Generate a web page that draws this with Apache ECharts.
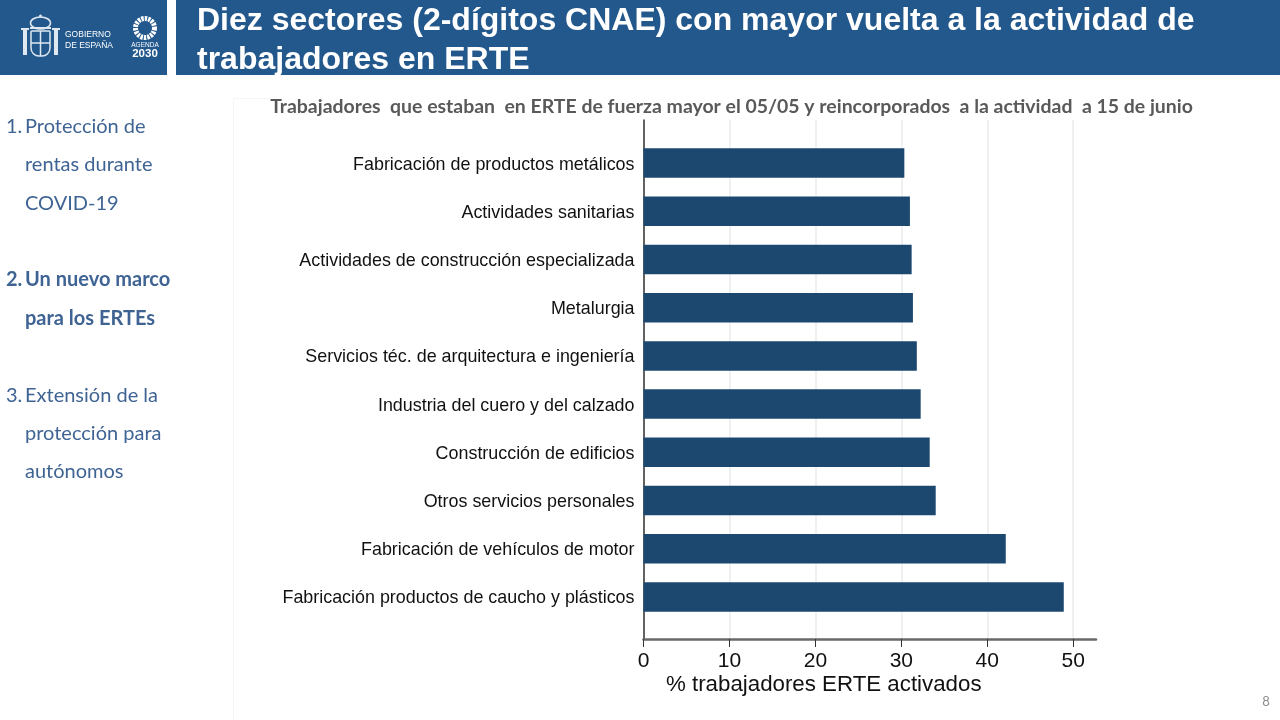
<!DOCTYPE html>
<html>
<head>
<meta charset="utf-8">
<style>
  html, body { margin: 0; padding: 0; background: #fff; }
  #chart { width: 1280px; height: 720px; }
</style>
<script src="https://cdn.jsdelivr.net/npm/echarts@6/dist/echarts.min.js"></script>
</head>
<body>
<div id="chart"></div>
<script>
// bottom to top, as on the axis
const sectores = [
  'Fabricación productos de caucho y plásticos',
  'Fabricación de vehículos de motor',
  'Otros servicios personales',
  'Construcción de edificios',
  'Industria del cuero y del calzado',
  'Servicios téc. de arquitectura e ingeniería',
  'Metalurgia',
  'Actividades de construcción especializada',
  'Actividades sanitarias',
  'Fabricación de productos metálicos',
];
const activados = [48.9, 42.15, 34, 33.3, 32.25, 31.8, 31.35, 31.2, 31, 30.35];
const xTicks = [0, 10, 20, 30, 40, 50];

const tituloLineas = [
  'Diez sectores (2-dígitos CNAE) con mayor vuelta a la actividad de',
  'trabajadores en ERTE',
];
const subtitulo = 'Trabajadores  que estaban  en ERTE de fuerza mayor el 05/05 y reincorporados  a la actividad  a 15 de junio';
const xNombre = '% trabajadores ERTE activados';

// sidebar: [number, lines, centre y of each line, bold]
const indice = [
  ['1.', ['Protección de', 'rentas durante', 'COVID-19'], [127, 165, 204], false],
  ['2.', ['Un nuevo marco', 'para los ERTEs'], [280, 319], true],
  ['3.', ['Extensión de la', 'protección para', 'autónomos'], [396, 434, 472], false],
];

const AZUL = '#22588c';
const BARRA = '#1c4870';
const CLARO = '#dfe8f1';
const XMAX = 52.65;

function texto(x, y, text, style) {
  return {
    type: 'text', x: x, y: y, silent: true,
    style: Object.assign({ text: text, fill: '#fff', textVerticalAlign: 'middle' }, style),
  };
}

const graphics = [
  { type: 'rect', shape: { x: 0, y: 0, width: 167, height: 75 }, style: { fill: AZUL } },
  { type: 'rect', shape: { x: 176, y: 0, width: 1104, height: 75 }, style: { fill: AZUL } },
  { type: 'line', shape: { x1: 233.5, y1: 98, x2: 233.5, y2: 720 }, style: { stroke: '#f6f6f6', lineWidth: 1 } },
  { type: 'line', shape: { x1: 233, y1: 98.5, x2: 270, y2: 98.5 }, style: { stroke: '#f6f6f6', lineWidth: 1 } },

  // escudo, simplified
  { type: 'rect', shape: { x: 31, y: 31, width: 19, height: 25, r: [1, 1, 8, 8] }, style: { fill: 'none', stroke: CLARO, lineWidth: 1.5 } },
  { type: 'line', shape: { x1: 40.5, y1: 31, x2: 40.5, y2: 56 }, style: { stroke: CLARO, lineWidth: 1.5 } },
  { type: 'line', shape: { x1: 31, y1: 43, x2: 50, y2: 43 }, style: { stroke: CLARO, lineWidth: 1.5 } },
  { type: 'ellipse', shape: { cx: 40.5, cy: 23, rx: 10, ry: 6 }, style: { fill: 'none', stroke: CLARO, lineWidth: 1.5 } },
  { type: 'line', shape: { x1: 30, y1: 28, x2: 51, y2: 28 }, style: { stroke: CLARO, lineWidth: 2 } },
  { type: 'circle', shape: { cx: 40.5, cy: 16, r: 1.5 }, style: { fill: CLARO } },
  { type: 'rect', shape: { x: 23, y: 30, width: 4, height: 25 }, style: { fill: CLARO } },
  { type: 'rect', shape: { x: 54, y: 30, width: 4, height: 25 }, style: { fill: CLARO } },
  { type: 'rect', shape: { x: 21, y: 28, width: 8, height: 2 }, style: { fill: CLARO } },
  { type: 'rect', shape: { x: 52, y: 28, width: 8, height: 2 }, style: { fill: CLARO } },
  texto(65, 35, 'GOBIERNO', { font: '8.5px "Liberation Sans"' }),
  texto(65, 46, 'DE ESPAÑA', { font: '8.5px "Liberation Sans"' }),

  // agenda 2030
  { type: 'circle', shape: { cx: 145, cy: 28, r: 9.5 }, style: { fill: 'none', stroke: '#fff', lineWidth: 5, lineDash: [2.4, 1] } },
  texto(145, 45, 'AGENDA', { font: '6.5px "Liberation Sans"', textAlign: 'center' }),
  texto(145, 54, '2030', { font: 'bold 11.5px "Liberation Sans"', textAlign: 'center' }),

  texto(197, 21, tituloLineas[0], { font: 'bold 32px "Liberation Sans"' }),
  texto(197, 60, tituloLineas[1], { font: 'bold 32px "Liberation Sans"' }),

  texto(731.5, 107, subtitulo, { font: 'bold 19.45px Lato', fill: '#595959', textAlign: 'center' }),
  texto(1266, 702, '8', { font: '13px Lato', fill: '#8c8c8c', textAlign: 'center' }),
];

indice.forEach(function (item) {
  const font = (item[3] ? 'bold ' : '') + '20px Lato';
  graphics.push(texto(6, item[2][0], item[0], { font: font, fill: '#3f6494' }));
  item[1].forEach(function (linea, i) {
    graphics.push(texto(25, item[2][i], linea, { font: font, fill: '#3f6494' }));
  });
});

const chart = echarts.init(document.getElementById('chart'));
chart.setOption({
  animation: false,
  backgroundColor: '#fff',
  // first grid carries the frame, second one the bars with their tighter band
  grid: [
    { left: 643.5, width: 452.5, top: 120, height: 519 },
    { left: 643.5, width: 452.5, top: 139, height: 482 },
  ],
  xAxis: [
    {
      gridIndex: 0, type: 'value', min: 0, max: XMAX, interval: 10,
      axisLine: { show: true, lineStyle: { color: '#6a6a6a', width: 2.5 } },
      axisTick: { show: true, length: 8, lineStyle: { color: '#333', width: 1 }, customValues: xTicks },
      axisLabel: { color: '#111', fontSize: 21, fontFamily: '"Liberation Sans"', margin: 12, customValues: xTicks },
      splitLine: { show: true, lineStyle: { color: '#eef0f2', width: 2 } },
      name: xNombre, nameLocation: 'middle', nameGap: 35, nameMoveOverlap: false,
      nameTextStyle: { color: '#111', fontSize: 22.3, fontFamily: '"Liberation Sans"', padding: [0, 92, 0, 0] },
    },
    { gridIndex: 1, type: 'value', min: 0, max: XMAX, show: false },
  ],
  yAxis: [
    {
      gridIndex: 0, type: 'category', data: [],
      axisLine: { show: true, lineStyle: { color: '#333', width: 1.5 } },
      axisTick: { show: false }, axisLabel: { show: false },
    },
    {
      gridIndex: 1, type: 'category', data: sectores,
      axisLine: { show: false }, axisTick: { show: false },
      // thin line box hung from the tick: nudges the text 1.5px down
      axisLabel: { color: '#111', fontSize: 17.9, fontFamily: '"Liberation Sans"', margin: 9, interval: 0, verticalAlign: 'top', lineHeight: 3 },
    },
  ],
  series: [
    {
      type: 'bar', xAxisIndex: 1, yAxisIndex: 1, data: activados, barWidth: 29.5,
      itemStyle: { color: BARRA },
    },
  ],
  graphic: { elements: graphics },
});
</script>
</body>
</html>
